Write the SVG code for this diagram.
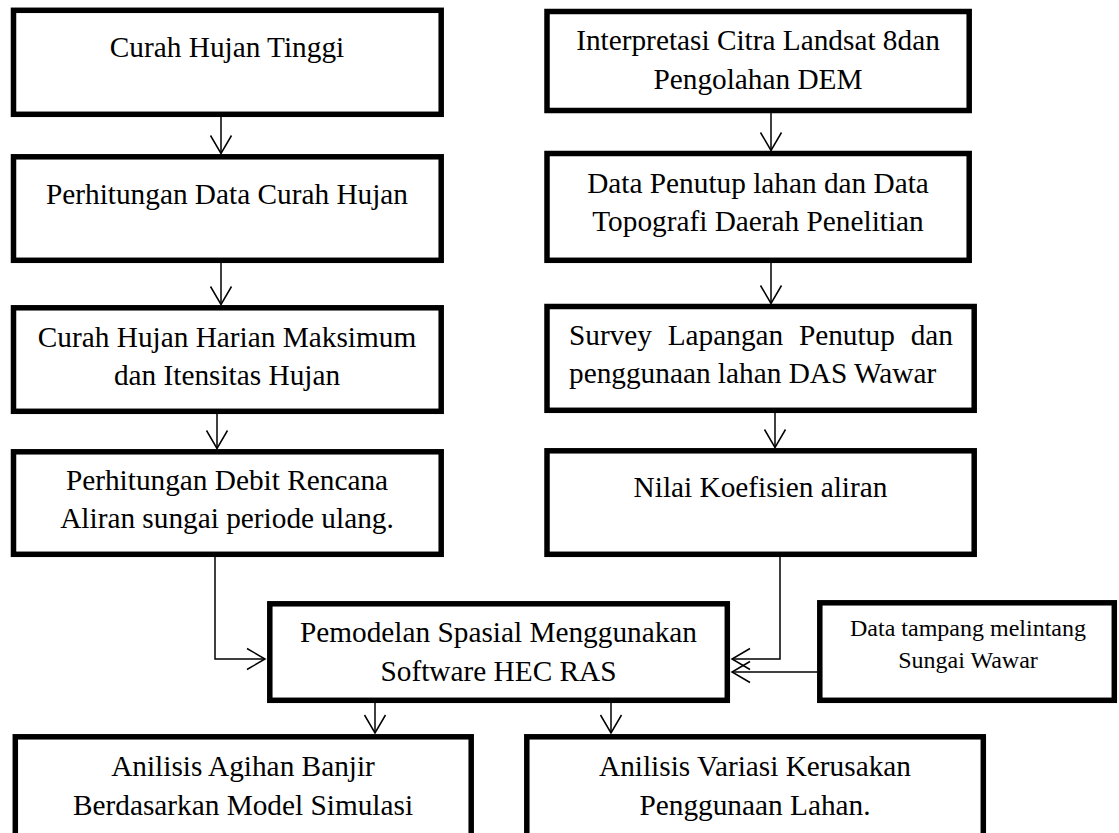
<svg xmlns="http://www.w3.org/2000/svg" width="1119" height="833" viewBox="0 0 1119 833">
<defs>
<style>
.box{fill:#fff;stroke:#000;stroke-width:5.5}
.t{font-family:"Liberation Serif","Times New Roman",serif;font-size:29.3px;fill:#000;text-anchor:middle}
.ts{font-family:"Liberation Serif","Times New Roman",serif;font-size:24px;fill:#000;text-anchor:middle}
.tl{font-family:"Liberation Serif","Times New Roman",serif;font-size:29.3px;fill:#000}
.c{fill:none;stroke:#000;stroke-width:1.5}
</style>
<marker id="ah" markerUnits="userSpaceOnUse" markerWidth="24" markerHeight="26" viewBox="-20 -13 24 26" refX="0" refY="0" orient="auto">
<path d="M-18,-10.5 L0,0 L-18,10.5" fill="none" stroke="#000" stroke-width="1.5"/>
</marker>
</defs>
<rect width="1119" height="833" fill="#fff"/>
<g id="connectors">
<line class="c" x1="221" y1="117" x2="221" y2="153.5" marker-end="url(#ah)"/>
<line class="c" x1="221" y1="263" x2="221" y2="304.5" marker-end="url(#ah)"/>
<line class="c" x1="217" y1="414" x2="217" y2="448.5" marker-end="url(#ah)"/>
<polyline class="c" points="215,557 215,659 265,659" marker-end="url(#ah)"/>
<line class="c" x1="771" y1="106" x2="771" y2="150.5" marker-end="url(#ah)"/>
<line class="c" x1="771" y1="263" x2="771" y2="303.5" marker-end="url(#ah)"/>
<line class="c" x1="775" y1="413" x2="775" y2="447.5" marker-end="url(#ah)"/>
<polyline class="c" points="780,557 780,659 732,659" marker-end="url(#ah)"/>
<line class="c" x1="817" y1="672" x2="732" y2="672" marker-end="url(#ah)"/>
<line class="c" x1="375" y1="697" x2="375" y2="733" marker-end="url(#ah)"/>
<line class="c" x1="611" y1="697" x2="611" y2="733" marker-end="url(#ah)"/>
</g>
<g id="n1">
<rect class="box" x="13.5" y="10.3" width="427.7" height="104"/>
<text class="t" x="227" y="57">Curah Hujan Tinggi</text>
</g>
<g id="n2">
<rect class="box" x="13.5" y="156.8" width="427.7" height="103.5"/>
<text class="t" x="227" y="204">Perhitungan Data Curah Hujan</text>
</g>
<g id="n3">
<rect class="box" x="13.5" y="307.8" width="427.7" height="103.5"/>
<text class="t" x="227" y="347">Curah Hujan Harian Maksimum</text>
<text class="t" x="227" y="385">dan Itensitas Hujan</text>
</g>
<g id="n4">
<rect class="box" x="13.5" y="451.8" width="427.7" height="102.5"/>
<text class="t" x="227" y="490">Perhitungan Debit Rencana</text>
<text class="t" x="227" y="528">Aliran sungai periode ulang.</text>
</g>
<g id="r1">
<rect class="box" x="547" y="11.5" width="422.2" height="99"/>
<text class="t" x="758" y="50">Interpretasi Citra Landsat 8dan</text>
<text class="t" x="758" y="89">Pengolahan DEM</text>
</g>
<g id="r2">
<rect class="box" x="547" y="153.5" width="422.2" height="106.8"/>
<text class="t" x="758" y="193">Data Penutup lahan dan Data</text>
<text class="t" x="758" y="231">Topografi Daerah Penelitian</text>
</g>
<g id="r3">
<rect class="box" x="547" y="306.5" width="427.2" height="103.8"/>
<text class="tl" y="345"><tspan x="569">Survey</tspan><tspan x="667.7">Lapangan</tspan><tspan x="798.9">Penutup</tspan><tspan x="910.7">dan</tspan></text>
<text class="tl" x="569" y="383">penggunaan lahan DAS Wawar</text>
</g>
<g id="r4">
<rect class="box" x="547" y="450.8" width="427.2" height="103.5"/>
<text class="t" x="760.5" y="497">Nilai Koefisien aliran</text>
</g>
<g id="hec">
<rect class="box" x="269.8" y="603.8" width="457.5" height="96.5"/>
<text class="t" x="498.5" y="642">Pemodelan Spasial Menggunakan</text>
<text class="t" x="498.5" y="681">Software HEC RAS</text>
</g>
<g id="data">
<rect class="box" x="819.8" y="602.8" width="294.5" height="97.5"/>
<text class="ts" x="968" y="636">Data tampang melintang</text>
<text class="ts" x="968" y="668">Sungai Wawar</text>
</g>
<g id="b1">
<rect class="box" x="15.3" y="736.8" width="455.9" height="110"/>
<text class="t" x="243" y="776">Anilisis Agihan Banjir</text>
<text class="t" x="243" y="815">Berdasarkan Model Simulasi</text>
</g>
<g id="b2">
<rect class="box" x="526.8" y="736.8" width="456.5" height="110"/>
<text class="t" x="755" y="776">Anilisis Variasi Kerusakan</text>
<text class="t" x="755" y="815">Penggunaan Lahan.</text>
</g>
</svg>
